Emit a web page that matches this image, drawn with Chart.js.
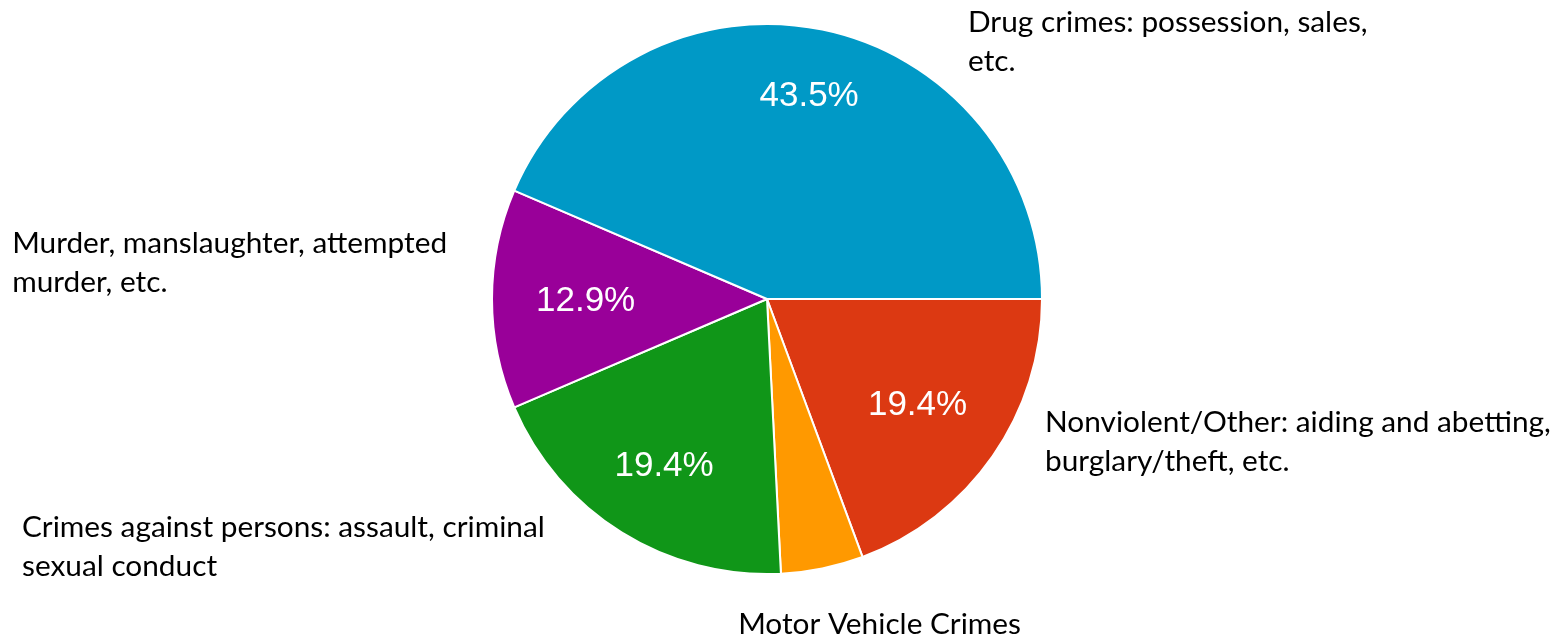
<!DOCTYPE html>
<html>
<head>
<meta charset="utf-8">
<script src="https://cdn.jsdelivr.net/npm/chart.js@4/dist/chart.umd.min.js"></script>
<style>
  html, body { margin: 0; padding: 0; background: #fff; }
  #wrap { width: 1560px; height: 638px; }
</style>
</head>
<body>
<div id="wrap"><canvas id="pie" width="1560" height="638"></canvas></div>
<script>
// Datos (orden en el sentido del reloj desde las 3 en punto)
const categories = [
  'Nonviolent/Other: aiding and abetting, burglary/theft, etc.',
  'Motor Vehicle Crimes',
  'Crimes against persons: assault, criminal sexual conduct',
  'Murder, manslaughter, attempted murder, etc.',
  'Drug crimes: possession, sales, etc.'
];
const counts = [12, 3, 12, 8, 27];
const sliceColors = ['#dc3912', '#ff9900', '#109618', '#990099', '#0099c6'];

// Etiquetas externas, partidas en líneas como en el original
const labelLines = [
  ['Nonviolent/Other: aiding and abetting,', 'burglary/theft, etc.'],
  ['Motor Vehicle Crimes'],
  ['Crimes against persons: assault, criminal', 'sexual conduct'],
  ['Murder, manslaughter, attempted', 'murder, etc.'],
  ['Drug crimes: possession, sales,', 'etc.']
];

// Posición de cada etiqueta relativa al centro, en unidades del radio
const labelAnchors = [
  [1.011, 0.447],
  [-0.105, 1.185],
  [-2.709, 0.829],
  [-2.745, -0.204],
  [0.731, -1.007]
];

const total = counts.reduce((a, b) => a + b, 0);

// Plugin: porcentajes dentro y textos fuera
const pieLabels = {
  id: 'pieLabels',
  afterDatasetsDraw(chart) {
    const ctx = chart.ctx;
    const arcs = chart.getDatasetMeta(0).data;
    if (!arcs.length) return;
    const cx = arcs[0].x, cy = arcs[0].y, r = arcs[0].outerRadius;

    ctx.save();
    // porcentajes: la caja del texto queda a una distancia fija del borde
    ctx.fillStyle = '#ffffff';
    ctx.font = '35px "Liberation Sans", Arial, sans-serif';
    ctx.textAlign = 'center';
    ctx.textBaseline = 'middle';
    arcs.forEach((arc, i) => {
      const pct = counts[i] / total * 100;
      if (pct < 5) return;
      const txt = pct.toFixed(1) + '%';
      const w = ctx.measureText(txt).width;
      const mid = (arc.startAngle + arc.endAngle) / 2;
      const c = Math.cos(mid), s = Math.sin(mid);
      const ext = (w / 2) * Math.abs(c) + 12 * Math.abs(s);
      const d = r * 0.84 - ext;
      ctx.fillText(txt, cx + c * d, cy + s * d + 2);
    });

    // textos externos
    ctx.fillStyle = '#000000';
    ctx.textAlign = 'left';
    ctx.font = '100px Lato, "Open Sans", sans-serif';
    const w100 = ctx.measureText(labelLines[4][0]).width;
    const size = 100 * 400 / w100;
    ctx.font = size.toFixed(1) + 'px Lato, "Open Sans", sans-serif';
    labelLines.forEach((lines, i) => {
      const x = cx + labelAnchors[i][0] * r;
      const y = cy + labelAnchors[i][1] * r;
      lines.forEach((t, j) => ctx.fillText(t, x, y + j * 39.5));
    });
    ctx.restore();
  }
};

new Chart(document.getElementById('pie'), {
  type: 'pie',
  data: {
    labels: categories,
    datasets: [{
      data: counts,
      backgroundColor: sliceColors,
      borderColor: '#ffffff',
      borderWidth: 2
    }]
  },
  options: {
    responsive: false,
    animation: false,
    devicePixelRatio: 1,
    rotation: 90,
    layout: { padding: { top: 23, bottom: 63, left: 0, right: 26 } },
    plugins: {
      legend: { display: false },
      tooltip: { enabled: false }
    }
  },
  plugins: [pieLabels]
});
</script>
</body>
</html>
